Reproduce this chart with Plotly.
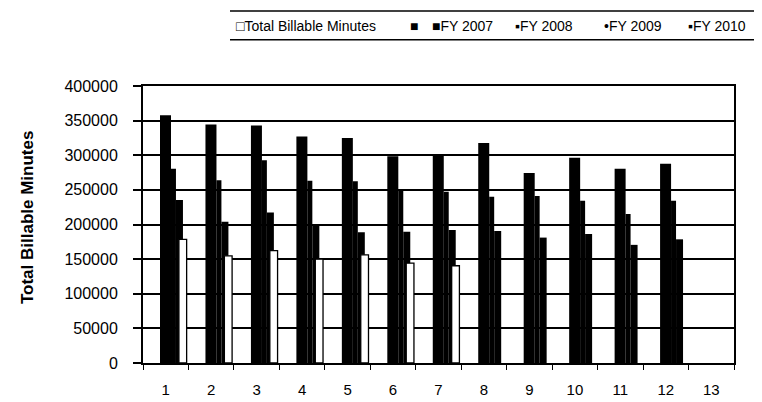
import plotly.graph_objects as go

categories = [str(i) for i in range(1, 14)]
fy2007 = [357800, 344400, 343000, 327200, 324800, 298500, 299900, 317600, 274500, 296400, 280600, 287800, None]
fy2008 = [280600, 264000, 292700, 263000, 262500, 250500, 247200, 240000, 241000, 234200, 215100, 234200, None]
fy2009 = [235200, 204100, 217400, 197900, 188700, 189700, 192100, 190700, 181100, 186400, 170600, 178600, None]
fy2010 = [178600, 154800, 162400, 149900, 156200, 144100, 140400, None, None, None, None, None, None]
y_ticks = [0, 50000, 100000, 150000, 200000, 250000, 300000, 350000, 400000]
y_title = "Total Billable Minutes"
legend_items = ["\u25a1Total Billable Minutes", "\u25a0", "\u25a0FY 2007", "\u25aaFY 2008",
                "\u2022FY 2009", "\u25aaFY 2010"]

W, H = 762, 402
L, R, T, B = 135, 36, 78, 43
font_family = "Liberation Sans, Arial, sans-serif"


def px_x(px):
    return (px - L) / (W - L - R)


def px_y(py):
    return (H - B - py) / (H - T - B)


fig = go.Figure()
fig.add_trace(go.Bar(name="FY 2007", x=categories, y=fy2007, offset=-0.126, width=0.242,
                     marker=dict(color="black", line=dict(width=0))))
fig.add_trace(go.Bar(name="FY 2008", x=categories, y=fy2008, offset=0.115, width=0.11,
                     marker=dict(color="black", line=dict(width=0))))
fig.add_trace(go.Bar(name="FY 2009", x=categories, y=fy2009, offset=0.225, width=0.154,
                     marker=dict(color="black", line=dict(width=0))))
fig.add_trace(go.Bar(name="FY 2010", x=categories, y=fy2010, offset=0.29, width=0.17,
                     marker=dict(color="white", line=dict(color="black", width=1.3))))

# legend drawn as a compact text row (markers glued to labels, like the original)
legend_x = [226, 400, 422, 505, 594, 678]
annotations = []
for txt, lx in zip(legend_items, legend_x):
    annotations.append(dict(text=txt, x=px_x(lx), y=px_y(17), xref="paper", yref="paper",
                            xanchor="left", yanchor="middle", showarrow=False,
                            font=dict(size=14, family=font_family, color="black")))
annotations.append(dict(text="<b>" + y_title + "</b>", x=px_x(19), y=px_y(212),
                        xref="paper", yref="paper", textangle=-90,
                        xanchor="center", yanchor="middle", showarrow=False,
                        font=dict(size=17, family=font_family, color="black")))

fig.update_layout(
    width=W, height=H,
    barmode="overlay",
    paper_bgcolor="white", plot_bgcolor="white",
    font=dict(family=font_family, size=15, color="black"),
    margin=dict(l=L, r=R, t=T, b=B),
    showlegend=False,
    xaxis=dict(type="category", categoryorder="array", categoryarray=categories,
               tickson="boundaries", ticks="outside", ticklen=5, tickcolor="black",
               showline=True, linecolor="black", linewidth=2, mirror=True,
               showgrid=False, tickfont=dict(size=15), ticklabelstandoff=12),
    yaxis=dict(range=[0, 400000], tickvals=y_ticks, tickformat="d",
               ticks="outside", ticklen=8, tickcolor="black", tickwidth=1.5,
               showline=True, linecolor="black", linewidth=2, mirror=True,
               showgrid=True, gridcolor="black", gridwidth=2,
               tickfont=dict(size=16), ticklabelstandoff=12),
    annotations=annotations,
    shapes=[
        dict(type="line", xref="paper", yref="paper", x0=px_x(222), x1=px_x(762),
             y0=px_y(2), y1=px_y(2), line=dict(color="black", width=1.5)),
        dict(type="line", xref="paper", yref="paper", x0=px_x(222), x1=px_x(762),
             y0=px_y(31), y1=px_y(31), line=dict(color="black", width=1.5)),
    ],
)

fig.write_html("out.html")
